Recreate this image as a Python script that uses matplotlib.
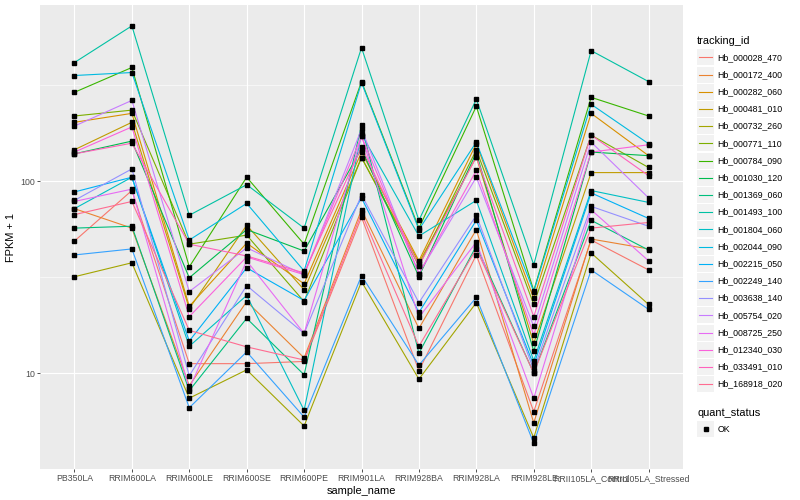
import numpy as np
import matplotlib
matplotlib.use("Agg")
import matplotlib.pyplot as plt
from matplotlib.patches import Rectangle
from matplotlib.lines import Line2D

plt.rcParams['font.family'] = ['Liberation Sans', 'DejaVu Sans']

samples = ["PB350LA", "RRIM600LA", "RRIM600LE", "RRIM600SE", "RRIM600PE",
           "RRIM901LA", "RRIM928BA", "RRIM928LA", "RRIM928LE",
           "RRII105LA_Control", "RRII105LA_Stressed"]

tracking_ids = ["Hb_000028_470", "Hb_000172_400", "Hb_000282_060", "Hb_000481_010",
                "Hb_000732_260", "Hb_000771_110", "Hb_000784_090", "Hb_001030_120",
                "Hb_001369_060", "Hb_001493_100", "Hb_001804_060", "Hb_002044_090",
                "Hb_002215_050", "Hb_002249_140", "Hb_003638_140", "Hb_005754_020",
                "Hb_008725_250", "Hb_012340_030", "Hb_033491_010", "Hb_168918_020"]

colors = ["#F8766D", "#EA8331", "#D89000", "#C09B00", "#A3A500", "#7CAE00",
          "#39B600", "#00BB4E", "#00BF7D", "#00C1A3", "#00BFC4", "#00BAE0",
          "#00B0F6", "#35A2FF", "#9590FF", "#C77CFF", "#E76BF3", "#FA62DB",
          "#FF62BC", "#FF6C91"]

# FPKM + 1 values, one list per gene, in the order of `samples`
Hb_000028_470 = [48.8, 89.5, 11.2, 11.2, 11.5, 65, 10.3, 41.3, 6.3, 49.4, 34.5]
Hb_000172_400 = [72, 57, 8.6, 23.6, 12, 71, 17.1, 56, 5.5, 50, 44.4]
Hb_000282_060 = [203, 226, 22.3, 47.6, 29.2, 142, 38.5, 157, 24.5, 226, 136]
Hb_000481_010 = [146, 203, 21.7, 59, 27.2, 133, 37.6, 134, 14.3, 111, 111]
Hb_000732_260 = [31.8, 37.6, 7.4, 10.4, 5.3, 30, 9.3, 23.3, 4.6, 42.3, 22.8]
Hb_000771_110 = [219, 235, 47, 52.4, 23.6, 133, 36.2, 146, 22.8, 174, 118]
Hb_000784_090 = [291, 392, 35.8, 105, 47, 331, 57, 246, 26.9, 274, 219]
Hb_001030_120 = [139, 162, 31.4, 56, 43.3, 148, 31.8, 141, 13, 142, 136]
Hb_001369_060 = [57, 58.3, 8.1, 19.3, 9.8, 196, 12.7, 46, 10, 62.6, 43.8]
Hb_001493_100 = [416, 646, 66.5, 96, 57, 497, 62.6, 268, 36.7, 480, 331]
Hb_001804_060 = [72, 105, 13.8, 25.4, 6.4, 176, 51.8, 79.5, 11.6, 89.5, 77.6]
Hb_002044_090 = [356, 369, 49.4, 76.7, 34.1, 327, 56, 160, 26.6, 252, 157]
Hb_002215_050 = [88, 105, 14.7, 35.4, 23.9, 82, 20.7, 62.6, 11, 87, 64]
Hb_002249_140 = [41.3, 44.4, 6.6, 12.9, 5.9, 32.2, 11, 24.8, 4.3, 34.5, 21.5]
Hb_003638_140 = [79.5, 116, 9.7, 28.6, 16.1, 85, 23.3, 66.5, 10.4, 74, 58.3]
Hb_005754_020 = [194, 264, 26.6, 45, 32.6, 187, 33, 105, 17.5, 160, 82]
Hb_008725_250 = [78.5, 91, 8.3, 38.5, 16.1, 172, 19.5, 48.2, 7.4, 71, 38.5]
Hb_012340_030 = [142, 192, 19.7, 40.3, 32.6, 172, 33, 114, 15.8, 142, 155]
Hb_033491_010 = [139, 158, 47, 40.8, 33.3, 151, 36.2, 134, 19.7, 174, 107]
Hb_168918_020 = [67, 78.5, 16.7, 13.7, 11.7, 68, 13.8, 44.4, 10, 57, 61]

series = [Hb_000028_470, Hb_000172_400, Hb_000282_060, Hb_000481_010,
          Hb_000732_260, Hb_000771_110, Hb_000784_090, Hb_001030_120,
          Hb_001369_060, Hb_001493_100, Hb_001804_060, Hb_002044_090,
          Hb_002215_050, Hb_002249_140, Hb_003638_140, Hb_005754_020,
          Hb_008725_250, Hb_012340_030, Hb_033491_010, Hb_168918_020]

W, H = 800, 500
fig = plt.figure(figsize=(8, 5), dpi=100)
fig.patch.set_facecolor("white")

px_l, px_r, px_t, px_b = 40, 683, 5, 469
ax = fig.add_axes([px_l / W, 1 - px_b / H, (px_r - px_l) / W, (px_b - px_t) / H])
ax.set_facecolor("#EBEBEB")

x = np.arange(len(samples))
for vals, col in zip(series, colors):
    ax.plot(x, vals, color=col, lw=0.8, zorder=3, solid_capstyle="butt")
for vals in series:
    ax.plot(x, vals, ls="none", marker="s", ms=2.8, color="black", zorder=4)

ax.set_yscale("log")
allv = np.log10(np.concatenate([np.asarray(s, float) for s in series]))
lo, hi = allv.min(), allv.max()
pad = 0.05 * (hi - lo)
ax.set_ylim(10 ** (lo - pad), 10 ** (hi + pad))
ax.set_xlim(-0.6, len(samples) - 1 + 0.6)

ax.set_yticks([10, 100])
ax.set_yticklabels(["10", "100"])
ax.set_yticks([10 ** 0.5, 10 ** 1.5, 10 ** 2.5], minor=True)
ax.yaxis.set_minor_formatter(plt.NullFormatter())
ax.set_xticks(x)
ax.set_xticklabels(samples)

ax.grid(which="major", color="white", lw=0.8, zorder=1)
ax.grid(which="minor", axis="y", color="white", lw=0.4, zorder=1)
ax.set_axisbelow(True)
for sp in ax.spines.values():
    sp.set_visible(False)
ax.tick_params(which="major", length=2.0, width=0.6, color="#333333",
               labelsize=6.3, labelcolor="#4D4D4D", pad=1.6)
ax.tick_params(which="minor", length=0)
ax.set_xlabel("sample_name", fontsize=7.9, labelpad=2)
ax.set_ylabel("FPKM + 1", fontsize=7.9, labelpad=3)

# legend drawn in pixel coordinates
lg = fig.add_axes([0, 0, 1, 1], facecolor="none")
lg.set_xlim(0, W)
lg.set_ylim(H, 0)
lg.axis("off")
kx, kw, kh = 697, 17, 17
lg.text(kx, 40.5, "tracking_id", fontsize=7.9, va="center", ha="left")
y0, dy = 57.3, 17.2
for i, (tid, col) in enumerate(zip(tracking_ids, colors)):
    yc = y0 + i * dy
    lg.add_patch(Rectangle((kx, yc - kh / 2 + 0.5), kw, kh - 1, facecolor="#F2F2F2",
                           edgecolor="none"))
    lg.add_line(Line2D([kx + 2, kx + kw - 2], [yc, yc], color=col, lw=0.8))
    lg.text(kx + kw + 3.5, yc, tid, fontsize=6.3, va="center", ha="left")
lg.text(kx, 412.5, "quant_status", fontsize=7.9, va="center", ha="left")
yc = 429
lg.add_patch(Rectangle((kx, yc - kh / 2 + 0.5), kw, kh - 1, facecolor="#F2F2F2",
                       edgecolor="none"))
lg.plot([kx + kw / 2], [yc], marker="s", ms=2.8, color="black", ls="none")
lg.text(kx + kw + 3.5, yc, "OK", fontsize=6.3, va="center", ha="left")

fig.savefig("out.png", dpi=100, facecolor="white")
